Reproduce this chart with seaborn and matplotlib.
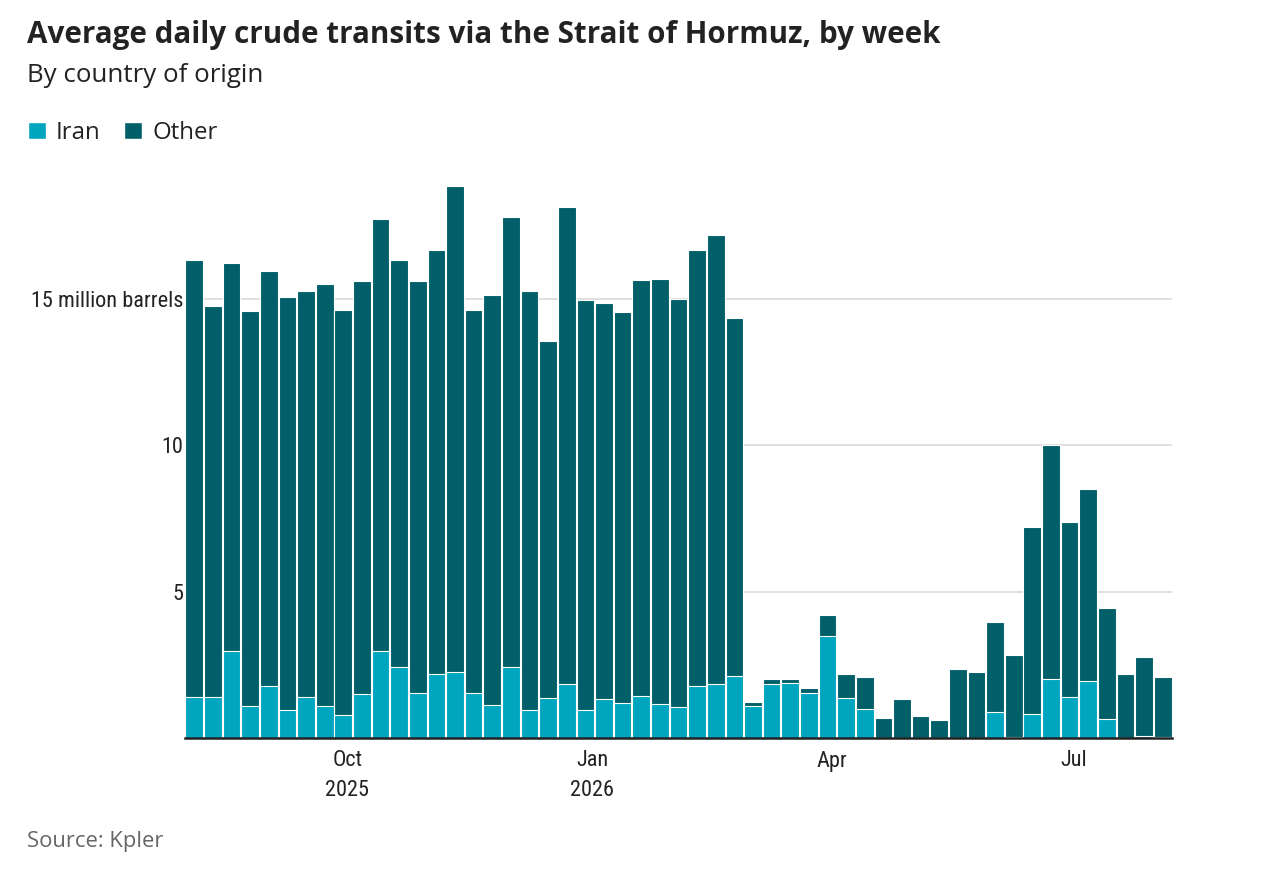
import matplotlib.pyplot as plt
import pandas as pd
import seaborn as sns
from matplotlib import font_manager as fm
from matplotlib.patches import Patch

# Weekly averages, million barrels a day
week_start = pd.date_range('2025-08-01', periods=53, freq='7D')
iran = [1.39, 1.39, 2.97, 1.10, 1.79, 0.95, 1.39, 1.10, 0.78, 1.50,
        2.97, 2.42, 1.52, 2.18, 2.25, 1.54, 1.12, 2.44, 0.97, 1.35,
        1.83, 0.97, 1.33, 1.20, 1.43, 1.17, 1.07, 1.77, 1.83, 2.11,
        1.10, 1.83, 1.87, 1.52, 3.50, 1.36, 0.98, 0.00, 0.00, 0.00,
        0.00, 0.00, 0.00, 0.89, 0.03, 0.83, 2.02, 1.40, 1.93, 0.66,
        0.00, 0.07, 0.02]
other = [14.92, 13.38, 13.25, 13.47, 14.17, 14.11, 13.89, 14.41, 13.83, 14.12,
         14.77, 13.91, 14.10, 14.47, 16.60, 13.08, 14.02, 15.35, 14.31, 12.21,
         16.30, 13.99, 13.54, 13.36, 14.20, 14.50, 13.93, 14.88, 15.34, 12.25,
         0.12, 0.17, 0.13, 0.18, 0.69, 0.81, 1.11, 0.70, 1.32, 0.76,
         0.62, 2.37, 2.27, 3.06, 2.81, 6.36, 7.98, 5.97, 6.56, 3.79,
         2.18, 2.70, 2.05]
month_ticks = pd.to_datetime(['2025-10-01', '2026-01-01', '2026-04-01', '2026-07-01'])
month_labels = ['Oct\n2025', 'Jan\n2026', 'Apr', 'Jul']
y_ticks = [5, 10, 15]
y_labels = ['5', '10', '15 million barrels']

IRAN_COLOR = '#00a5c0'
OTHER_COLOR = '#005f69'


def first_font(names):
    for n in names:
        try:
            fm.findfont(fm.FontProperties(family=n), fallback_to_default=False)
            return n
        except ValueError:
            pass
    return None


df = pd.DataFrame({'week': week_start.strftime('%Y-%m-%d'),
                   'Iran': iran, 'Other': other})
df['total'] = df['Iran'] + df['Other']

sns.set_style('white')
plt.rcParams['font.family'] = ['Open Sans', 'Noto Sans', 'DejaVu Sans']

narrow = first_font(['Roboto Condensed', 'Liberation Sans Narrow', 'Open Sans Condensed'])
if narrow:
    tick_font, tick_size = [narrow, 'DejaVu Sans'], 16
else:
    tick_font, tick_size = ['Roboto', 'DejaVu Sans'], 14.7

fig = plt.figure(figsize=(12.8, 8.74), dpi=100)
ax = fig.add_axes([185 / 1280, 1 - 738 / 874, 987 / 1280, (738 - 167) / 874])

# stacked: total (Other on top) behind, Iran in front
sns.barplot(data=df, x='week', y='total', color=OTHER_COLOR, saturation=1,
            width=0.95, edgecolor='white', linewidth=0.8, ax=ax, zorder=2)
sns.barplot(data=df, x='week', y='Iran', color=IRAN_COLOR, saturation=1,
            width=0.95, edgecolor='white', linewidth=0.8, ax=ax, zorder=3)

ax.set_xlim(-0.5, len(df) - 0.5)
ax.set_ylim(0, 19.5)
ax.set(xlabel='', ylabel='')

tick_pos = [(d - week_start[0]).days / 7 - 0.5 for d in month_ticks]
ax.set_xticks(tick_pos, labels=month_labels)
ax.set_yticks(y_ticks, labels=y_labels)
for lab in ax.get_xticklabels() + ax.get_yticklabels():
    lab.set_family(tick_font)
    lab.set_fontsize(tick_size)
    lab.set_color('#222222')
for lab in ax.get_xticklabels():
    lab.set_linespacing(1.5)
ax.tick_params(axis='both', length=0)
ax.tick_params(axis='x', pad=9)
ax.tick_params(axis='y', pad=1)

ax.grid(axis='y', color='#dddddd', linewidth=1.3, zorder=0)
ax.set_axisbelow(True)
for s in ['top', 'right', 'left']:
    ax.spines[s].set_visible(False)
ax.spines['bottom'].set_color('#222222')
ax.spines['bottom'].set_linewidth(1.8)
ax.spines['bottom'].set_zorder(5)

fig.text(27 / 1280, 1 - 35 / 874, 'Average daily crude transits via the Strait of Hormuz, by week',
         fontsize=21.3, fontweight='bold', color='#222222', va='center')
fig.text(27 / 1280, 1 - 76 / 874, 'By country of origin',
         fontsize=18.6, color='#222222', va='center')
fig.text(27 / 1280, 1 - 841 / 874, 'Source: Kpler',
         fontsize=15.8, color='#666666', va='center')

handles = [Patch(facecolor=IRAN_COLOR), Patch(facecolor=OTHER_COLOR)]
fig.legend(handles, ['Iran', 'Other'], loc='center left',
           bbox_to_anchor=(28 / 1280, 1 - 133 / 874), ncol=2, frameon=False,
           borderpad=0, borderaxespad=0,
           fontsize=17.3, handlelength=0.75, handleheight=0.75, handletextpad=0.4,
           columnspacing=1.0, labelcolor='#222222')

fig.savefig('out.png', dpi=100)
